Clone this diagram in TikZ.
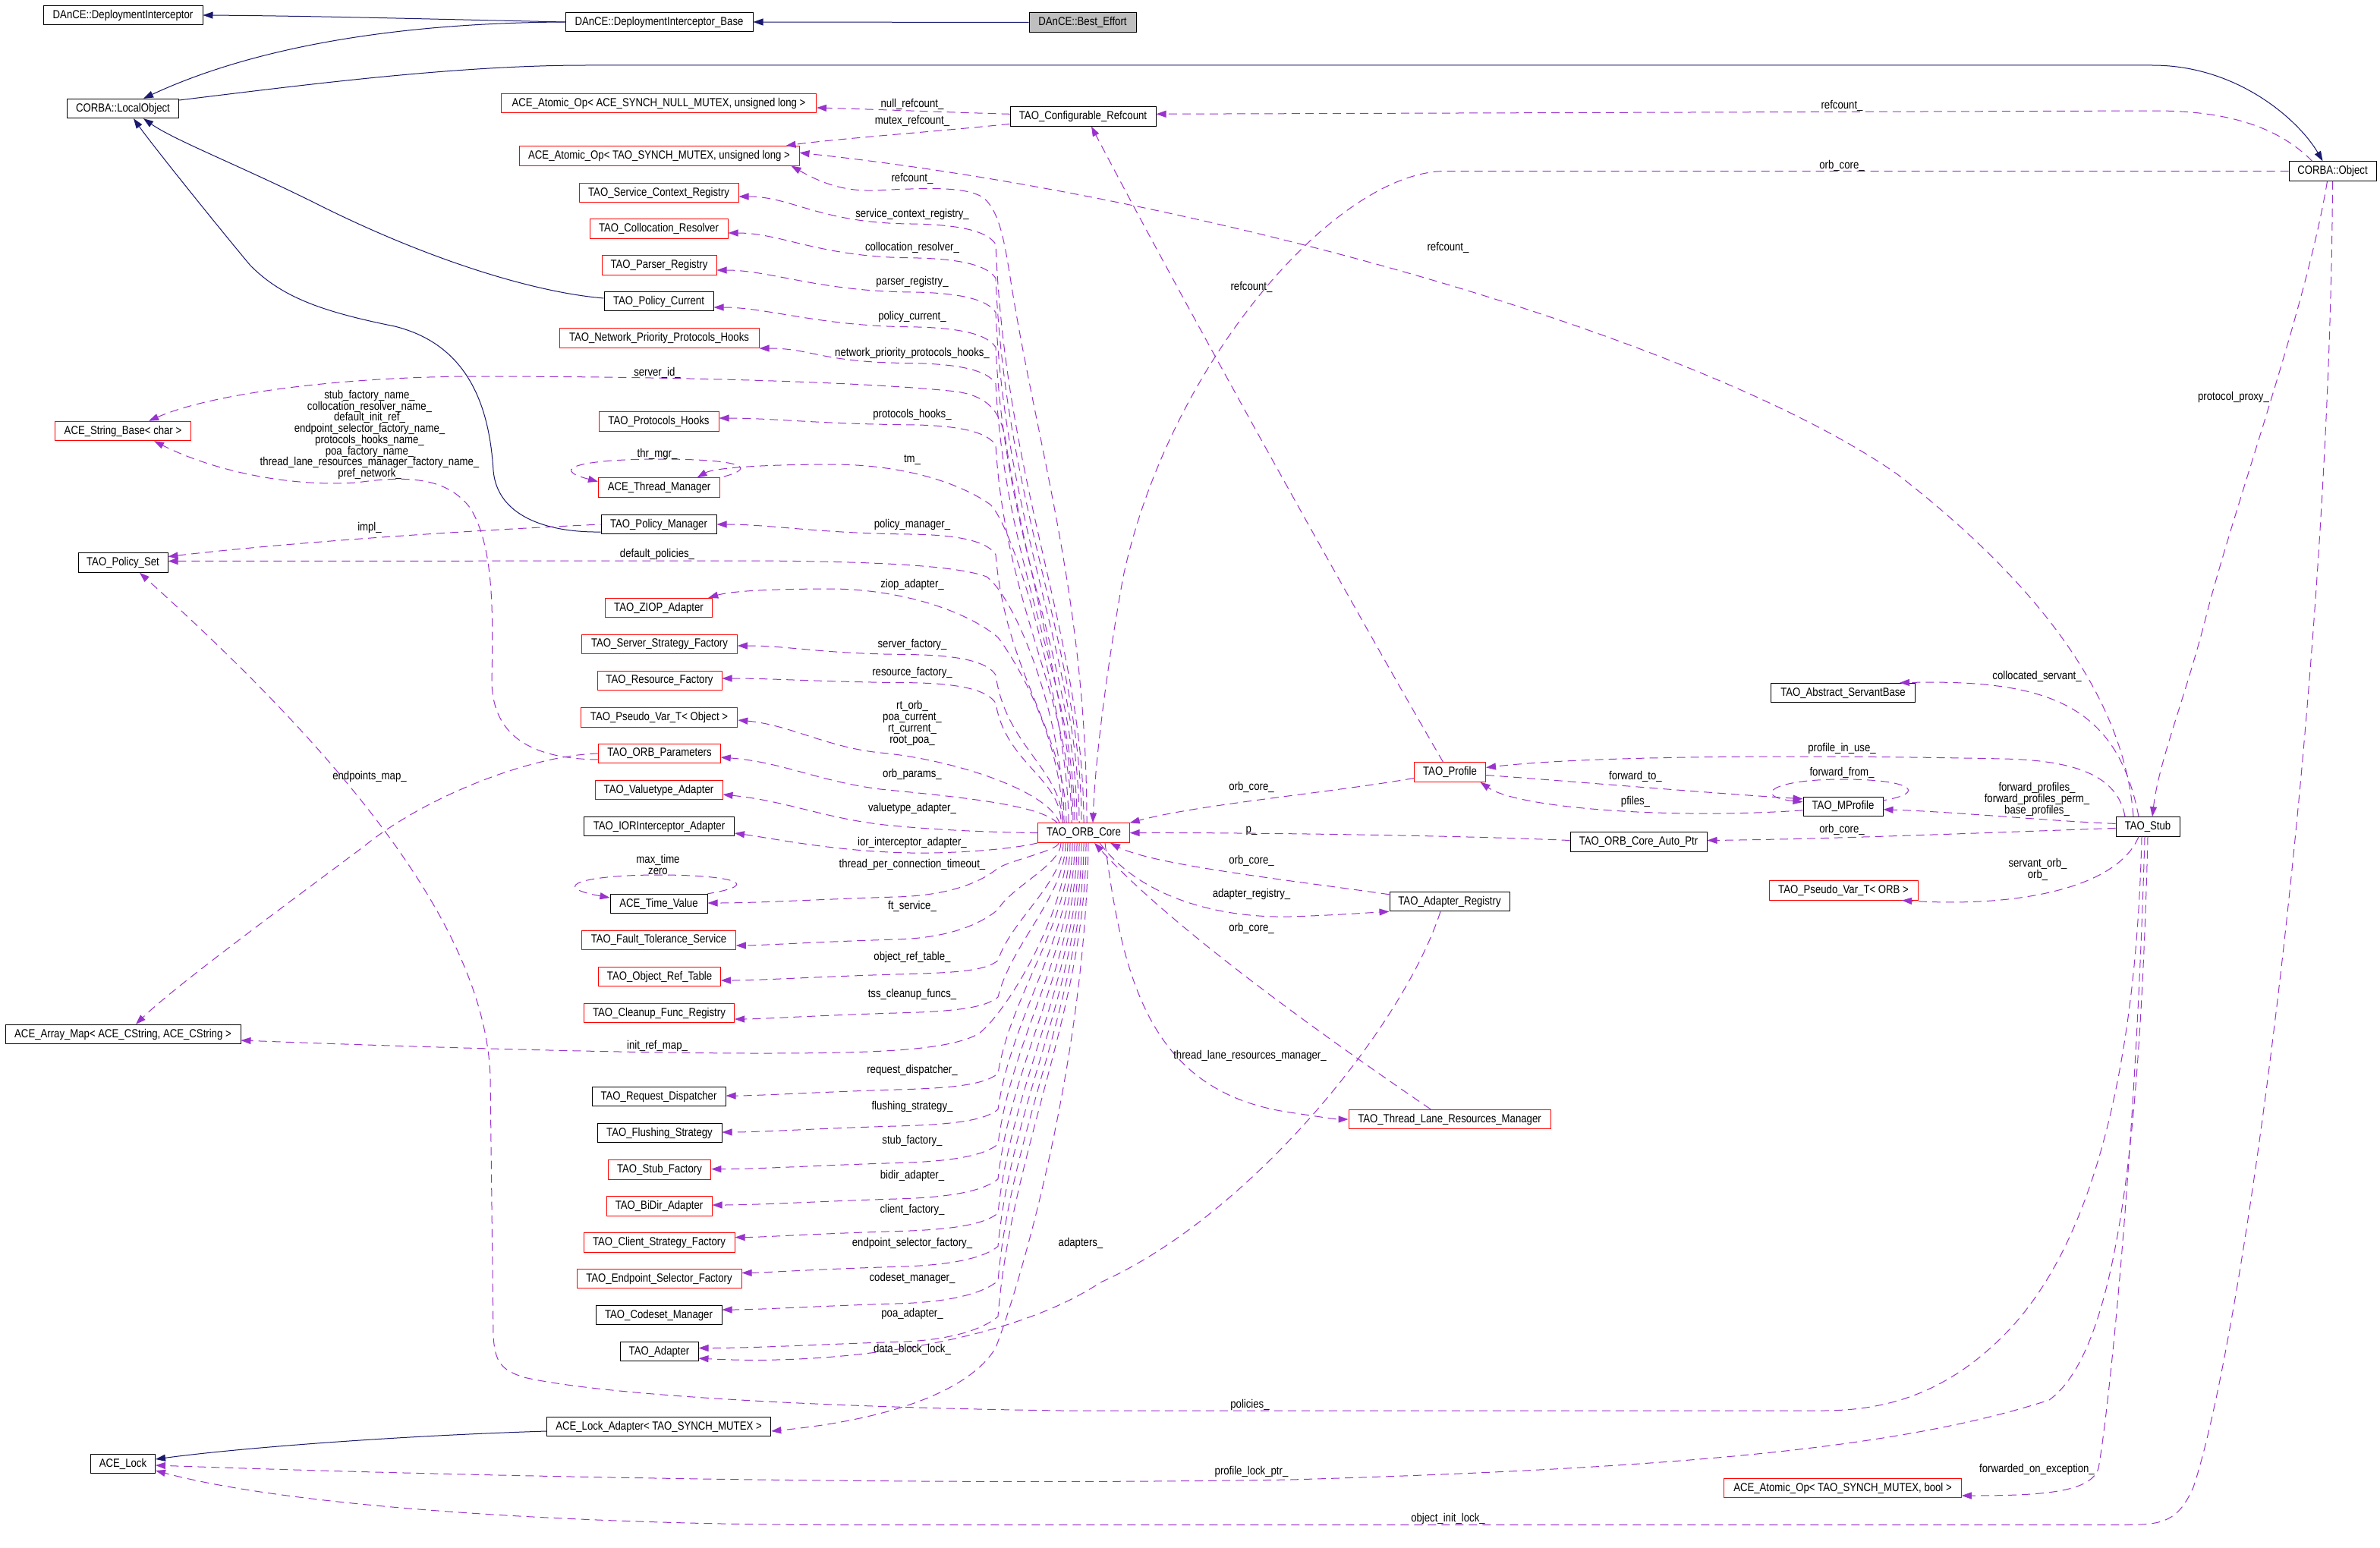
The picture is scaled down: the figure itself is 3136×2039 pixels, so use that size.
\documentclass[tikz,border=0pt]{standalone}
\usepackage{fontspec}
\newfontfamily\dgfamily{Liberation Sans}[FakeStretch=0.85]
\newcommand\dgfont{\dgfamily\fontsize{15.5}{14.7}\selectfont}
\usetikzlibrary{arrows.meta}
\definecolor{edgeblue}{HTML}{191970}
\definecolor{edgepurple}{HTML}{9A32CD}
\definecolor{fillgray}{HTML}{BFBFBF}
\tikzset{
  cls/.style={draw=black, line width=1pt, minimum height=25.5pt, inner xsep=5pt, inner ysep=0pt, font=\dgfont},
  redcls/.style={cls, draw=red},
  curcls/.style={cls, fill=fillgray},
  lbl/.style={font=\dgfont, inner sep=0pt, align=center},
  inh/.style={draw=edgeblue, line width=1pt, -{Triangle[length=13pt,width=9pt]}},
  usef/.style={draw=edgepurple, line width=1pt, dash pattern=on 11pt off 7pt, -{Triangle[length=13pt,width=9pt]}},
  useb/.style={draw=edgepurple, line width=1pt, dash pattern=on 11pt off 7pt, {Triangle[length=13pt,width=9pt]}-},
}
\begin{document}
\begin{tikzpicture}[x=1pt,y=-1pt]
\path[fill=white] (0,0) rectangle (3136,2039);
\useasboundingbox (0,0) rectangle (3136,2039);

% left column
\node[cls, minimum width=210pt] (di) at (162,20) {DAnCE::DeploymentInterceptor};
\node[cls, minimum width=147pt] (lobj) at (162,143) {CORBA::LocalObject};
\node[redcls, minimum width=179pt] (strb) at (162,568) {ACE\_String\_Base< char >};
\node[cls, minimum width=118pt] (pset) at (162,741.5) {TAO\_Policy\_Set};
\node[cls, minimum width=310pt] (amap) at (162,1363) {ACE\_Array\_Map< ACE\_CString, ACE\_CString >};
\node[cls, minimum width=85pt] (lock) at (162,1929) {ACE\_Lock};

% middle column
\node[cls, minimum width=247pt] (dib) at (868.5,29) {DAnCE::DeploymentInterceptor\_Base};
\node[redcls, minimum width=415pt] (aonull) at (868,136) {ACE\_Atomic\_Op< ACE\_SYNCH\_NULL\_MUTEX, unsigned long >};
\node[redcls, minimum width=369pt] (aotao) at (868.5,205.3) {ACE\_Atomic\_Op< TAO\_SYNCH\_MUTEX, unsigned long >};
\node[redcls, minimum width=210pt] (scr) at (868,254) {TAO\_Service\_Context\_Registry};
\node[redcls, minimum width=182pt] (colr) at (868,301.3) {TAO\_Collocation\_Resolver};
\node[redcls, minimum width=151pt] (pars) at (868.5,349.3) {TAO\_Parser\_Registry};
\node[cls, minimum width=144pt] (pcur) at (868,397) {TAO\_Policy\_Current};
\node[redcls, minimum width=263pt] (nph) at (868.5,445.3) {TAO\_Network\_Priority\_Protocols\_Hooks};
\node[redcls, minimum width=158pt] (phk) at (868,555.7) {TAO\_Protocols\_Hooks};
\node[redcls, minimum width=160pt] (thm) at (868.5,642.6) {ACE\_Thread\_Manager};
\node[cls, minimum width=152pt] (pman) at (868,691) {TAO\_Policy\_Manager};
\node[redcls, minimum width=141.5pt] (ziop) at (868,801) {TAO\_ZIOP\_Adapter};
\node[redcls, minimum width=204.5pt] (ssf) at (869,849) {TAO\_Server\_Strategy\_Factory};
\node[redcls, minimum width=164pt] (rf) at (869,897) {TAO\_Resource\_Factory};
\node[redcls, minimum width=206.6pt] (pvo) at (868.5,945.6) {TAO\_Pseudo\_Var\_T< Object >};
\node[redcls, minimum width=160.5pt] (orbp) at (869,993) {TAO\_ORB\_Parameters};
\node[redcls, minimum width=168pt] (vta) at (868,1041) {TAO\_Valuetype\_Adapter};
\node[cls, minimum width=198pt] (iora) at (868.5,1089) {TAO\_IORInterceptor\_Adapter};
\node[cls, minimum width=128pt] (tv) at (868,1191) {ACE\_Time\_Value};
\node[redcls, minimum width=202.5pt] (fts) at (868,1238.8) {TAO\_Fault\_Tolerance\_Service};
\node[redcls, minimum width=160.5pt] (ort) at (869,1287) {TAO\_Object\_Ref\_Table};
\node[redcls, minimum width=198pt] (cfr) at (868.5,1335) {TAO\_Cleanup\_Func\_Registry};
\node[cls, minimum width=176pt] (rd) at (868,1445) {TAO\_Request\_Dispatcher};
\node[cls, minimum width=164pt] (fs) at (869,1493) {TAO\_Flushing\_Strategy};
\node[redcls, minimum width=135.5pt] (sf) at (869,1541.4) {TAO\_Stub\_Factory};
\node[redcls, minimum width=139pt] (bda) at (868.5,1589.5) {TAO\_BiDir\_Adapter};
\node[redcls, minimum width=199pt] (csf) at (868.5,1637.6) {TAO\_Client\_Strategy\_Factory};
\node[redcls, minimum width=217pt] (esf) at (868.5,1685) {TAO\_Endpoint\_Selector\_Factory};
\node[cls, minimum width=166pt] (csm) at (868,1733) {TAO\_Codeset\_Manager};
\node[cls, minimum width=103pt] (adp) at (868.5,1781) {TAO\_Adapter};
\node[cls, minimum width=295.5pt] (lad) at (868,1880) {ACE\_Lock\_Adapter< TAO\_SYNCH\_MUTEX >};

% centre and right
\node[curcls, minimum width=141pt] (be) at (1426.5,29.5) {DAnCE::Best\_Effort};
\node[cls, minimum width=192pt] (cref) at (1427,153.3) {TAO\_Configurable\_Refcount};
\node[redcls, minimum width=120.4pt] (core) at (1428,1097.6) {TAO\_ORB\_Core};
\node[redcls, minimum width=94pt] (prof) at (1910.5,1017.5) {TAO\_Profile};
\node[cls, minimum width=158pt] (areg) at (1910,1188) {TAO\_Adapter\_Registry};
\node[redcls, minimum width=266pt] (tlrm) at (1910,1475) {TAO\_Thread\_Lane\_Resources\_Manager};
\node[cls, minimum width=190pt] (asb) at (2428.5,913) {TAO\_Abstract\_ServantBase};
\node[cls, minimum width=105pt] (mprof) at (2428.5,1062.8) {TAO\_MProfile};
\node[cls, minimum width=180pt] (aop) at (2159,1109.5) {TAO\_ORB\_Core\_Auto\_Ptr};
\node[redcls, minimum width=196pt] (pvorb) at (2429,1173.3) {TAO\_Pseudo\_Var\_T< ORB >};
\node[cls, minimum width=84pt] (stub) at (2830,1089.4) {TAO\_Stub};
\node[redcls, minimum width=312.6pt] (aobool) at (2428,1961) {ACE\_Atomic\_Op< TAO\_SYNCH\_MUTEX, bool >};
\node[cls, minimum width=115pt] (cobj) at (3073.5,225.5) {CORBA::Object};

% inheritance
\draw[inh] (be.west) -- (dib.east);
\draw[inh] (dib.west) .. controls (600,26) and (420,21) .. (di.east);
\draw[inh] (dib.west) .. controls (550,30) and (350,55) .. ([xshift=27pt]lobj.north);
\draw[inh] ([yshift=11pt]lobj.east) .. controls (400,112) and (600,86) .. (772,86) -- (2836,86) .. controls (2950,86) and (3030,160) .. ([xshift=-13pt]cobj.north);
\draw[inh] ([yshift=4pt]pcur.west) .. controls (700,385) and (560,340) .. (420,270) .. controls (320,220) and (230,185) .. ([xshift=27pt]lobj.south);
\draw[inh] ([yshift=-10pt]pman.west) .. controls (720,702) and (655,680) .. (650,620) .. controls (645,540) and (620,455) .. (520,430) .. controls (420,410) and (370,390) .. (330,350) .. controls (280,290) and (200,190) .. ([xshift=14pt]lobj.south);
\draw[inh] ([yshift=-6pt]lad.west) .. controls (500,1893) and (300,1910) .. ([yshift=6pt]lock.east);

% refcounts
\draw[usef] ([yshift=3pt]cref.west) .. controls (1250,148) and (1150,144) .. ([yshift=-6pt]aonull.east); % null_refcount_
\draw[usef] ([yshift=-10pt]cref.west) .. controls (1250,172) and (1100,183) .. ([xshift=-18pt]aotao.north east); % mutex_refcount_
\draw[usef] ([xshift=-27pt]cobj.north) .. controls (3000,165) and (2930,146) .. (2840,146) -- ([yshift=3pt]cref.east); % refcount_
\draw[usef] ([xshift=-9pt]prof.north) .. controls (1800,830) and (1560,400) .. ([xshift=11pt]cref.south); % refcount_
\draw[usef] ([xshift=-19pt]stub.north) .. controls (2800,930) and (2700,780) .. (2500,625) .. controls (2250,450) and (1600,260) .. ([yshift=4pt]aotao.east); % refcount_
\draw[useb] ([xshift=-11pt]aotao.south east) .. controls (1080,240) and (1110,252) .. (1150,251) .. controls (1220,248) and (1270,245) .. (1295,260) .. controls (1320,280) and (1325,330) .. (1335,390) .. controls (1370,600) and (1432,800) .. (core.north -| 1432,0); % refcount_

% orb core, upper members
\foreach \t/\yt/\lb/\cx in {scr/259/282/1428, colr/307/326.8/1425, pars/356/371.9/1422, pcur/405/417.8/1419, nph/459/465.6/1416, phk/551/546.8/1412, pman/691/691/1405, ssf/851/849.6/1400, rf/894/886.7/1398}
  \draw[useb] (\t.east |- 0,\yt) .. controls +(70,0) and (1080,\lb+12) .. (1200,\lb+13) .. controls (1270,\lb+14) and (1302,\lb+24) .. (1312,\lb+40) .. controls (1325,{\lb+40+0.4*(1085-\lb)}) and (\cx,{1085-0.3*(1085-\lb)}) .. (core.north -| \cx,0);
\draw[useb] ([xshift=34pt]strb.north) .. controls (280,518) and (450,497) .. (620,496) .. controls (900,496) and (1150,504) .. (1260,516) .. controls (1300,522) and (1318,540) .. (1325,580) .. controls (1345,720) and (1414,950) .. (core.north -| 1414,0); % server_id_
\draw[useb] ([xshift=50pt]thm.north) .. controls (940,617) and (1000,612) .. (1100,612) .. controls (1200,613) and (1270,640) .. (1305,665) .. controls (1340,700) and (1408,950) .. (core.north -| 1408,0); % tm_
\draw[useb] ([yshift=8pt]thm.west) .. controls (720,617) and (770,605) .. (870,605) .. controls (960,605) and (1010,614) .. (thm.north east); % thr_mgr_
\draw[useb] ([yshift=2pt]pset.east) -- (1000,739) .. controls (1150,740) and (1260,745) .. (1300,760) .. controls (1340,790) and (1402,950) .. (core.north -| 1402,0); % default_policies_
\draw[useb] ([xshift=-6pt]ziop.north east) .. controls (960,780) and (1000,776) .. (1100,776) .. controls (1200,778) and (1280,810) .. (1315,840) .. controls (1345,880) and (1400,980) .. (core.north -| 1400,0); % ziop_adapter_
\draw[useb] ([yshift=8pt]pset.east) .. controls (380,715) and (600,700) .. (pman.west); % impl_
\draw[useb] (pvo.east |- 0,949) .. controls (1040,955) and (1090,985) .. (1160,992) .. controls (1250,1000) and (1380,1040) .. (core.north -| 1396,0);
\draw[useb] (orbp.east |- 0,998) .. controls (1030,1004) and (1080,1030) .. (1160,1040) .. controls (1260,1050) and (1370,1060) .. (core.north -| 1393,0);
\draw[useb] (vta.east |- 0,1047) .. controls (1040,1056) and (1090,1080) .. (1175,1088) .. controls (1250,1095) and (1320,1097) .. (core.west);
\draw[usef] (core.south west) .. controls (1330,1120) and (1250,1125) .. (1200,1124) .. controls (1100,1122) and (1020,1105) .. (iora.east |- 0,1098);

% orb core, lower members
\foreach \t/\yt/\lb/\cx in {tv/1190/1140/1395, fts/1246/1194.7/1398, ort/1292/1261.7/1401, cfr/1343/1310/1404, rd/1444/1410.7/1410, fs/1492/1458/1413, sf/1540.6/1503.8/1416, bda/1588/1549.7/1419, csf/1630.6/1594.7/1422, esf/1677.4/1638.4/1425, csm/1726/1684/1428, adp/1776.5/1731/1431}
  \draw[usef] (core.south -| \cx,0) .. controls (\cx,{1110+0.35*(\lb-1110)}) and (1332,{\lb+4-0.35*(\lb-1110)}) .. (1315,\lb+4) .. controls (1298,\lb+18) and (1260,\yt-10) .. (1180,\yt-8) .. controls (1080,\yt-5) and (1000,\yt) .. (\t.east |- 0,\yt);
\draw[useb] ([yshift=8pt]tv.west) .. controls (720,1168) and (770,1153) .. (868,1153) .. controls (960,1153) and (1010,1165) .. (tv.north east); % max_time, zero
\draw[usef] (core.south -| 1407,0) .. controls (1405,1200) and (1330,1330) .. (1290,1362) .. controls (1250,1385) and (1150,1388) .. (1000,1388) .. controls (800,1388) and (500,1378) .. (amap.east |- 0,1371); % init_ref_map_
\draw[usef] (core.south -| 1434,0) .. controls (1430,1400) and (1345,1690) .. (1312,1776) .. controls (1280,1830) and (1180,1870) .. (lad.east |- 0,1886); % data_block_lock_

% orb parameters
\draw[usef] ([yshift=-8pt]orbp.west) .. controls (700,1000) and (650,970) .. (648,900) .. controls (650,800) and (650,720) .. (620,670) .. controls (590,630) and (540,626) .. (470,636) .. controls (380,642) and (280,620) .. ([xshift=41pt]strb.south);
\draw[usef] (orbp.west) .. controls (700,995) and (560,1050) .. (480,1115) .. controls (380,1190) and (230,1300) .. ([xshift=17pt]amap.north); % endpoints_map_

% right of the core
\draw[usef] (cobj.west) -- (1905,225.5) .. controls (1760,225.5) and (1540,480) .. (1480,760) .. controls (1460,870) and (1443,1000) .. (core.north -| 1440,0); % orb_core_
\draw[usef] ([yshift=-8pt]prof.west) .. controls (1750,1045) and (1580,1060) .. (core.north east); % orb_core_
\draw[usef] ([yshift=2pt]aop.west) .. controls (1900,1100) and (1600,1097) .. (core.east); % p_
\draw[usef] ([yshift=-4pt]areg.north west) .. controls (1700,1160) and (1520,1140) .. (core.south -| 1463,0); % orb_core_
\draw[usef] (core.south -| 1449,0) .. controls (1500,1180) and (1600,1210) .. (1700,1208) .. controls (1760,1206) and (1800,1203) .. (areg.south west); % adapter_registry_
\draw[usef] ([xshift=-25pt]tlrm.north) .. controls (1780,1390) and (1550,1230) .. (core.south -| 1442,0); % orb_core_
\draw[usef] (core.south -| 1456,0) .. controls (1480,1300) and (1520,1440) .. (1700,1466) .. controls (1740,1472) and (1760,1475) .. (tlrm.west); % thread_lane_resources_manager_
\draw[usef] ([xshift=-12pt]areg.south) .. controls (1850,1350) and (1650,1600) .. (1450,1690) .. controls (1330,1770) and (1100,1800) .. (adp.east |- 0,1790); % adapters_

% stub and object
\draw[usef] ([xshift=-7pt]cobj.south) .. controls (3040,400) and (2950,650) .. (2910,800) .. controls (2880,920) and (2845,1000) .. ([xshift=6pt]stub.north); % protocol_proxy_
\draw[usef] (cobj.south) .. controls (3070,900) and (2960,1750) .. (2890,1960) .. controls (2870,2005) and (2850,2009.5) .. (2800,2009.5) -- (1100,2009.5) .. controls (800,2009.5) and (400,1990) .. ([yshift=-9pt]lock.east); % object_init_lock_
\draw[usef] (stub.south) .. controls (2820,1500) and (2790,1780) .. (2700,1845) .. controls (2500,1910) and (2200,1935) .. (1700,1950) .. controls (1200,1958) and (600,1945) .. ([yshift=-2pt]lock.east); % profile_lock_ptr_
\draw[usef] ([xshift=-8pt]stub.south) .. controls (2815,1400) and (2760,1640) .. (2640,1760) .. controls (2560,1840) and (2480,1859) .. (2400,1859) -- (1400,1859) .. controls (1100,1855) and (800,1840) .. (690,1815) .. controls (660,1805) and (652,1795) .. (650,1760) -- (646,1420) .. controls (640,1200) and (400,950) .. ([xshift=22pt]pset.south); % policies_
\draw[usef] ([xshift=-4pt]stub.south) .. controls (2815,1500) and (2780,1850) .. (2765,1935) .. controls (2755,1965) and (2700,1971) .. ([yshift=-10pt]aobool.east); % forwarded_on_exception_
\draw[usef] ([xshift=-12pt]stub.north) .. controls (2790,930) and (2700,895) .. ([xshift=-21pt]asb.north east); % collocated_servant_
\draw[usef] ([xshift=-30pt]stub.north) .. controls (2790,1020) and (2730,1002) .. (2640,1000) .. controls (2400,995) and (2100,995) .. ([yshift=6pt]prof.east); % profile_in_use_
\draw[usef] ([yshift=-4pt]prof.east) .. controls (2050,1028) and (2250,1045) .. ([yshift=10pt]mprof.west); % forward_to_
\draw[usef] ([yshift=-5pt]mprof.west) .. controls (2200,1080) and (2000,1065) .. ([xshift=40pt]prof.south); % pfiles_
\draw[useb] ([yshift=6pt]mprof.west) .. controls (2310,1050) and (2330,1027) .. (2428,1027) .. controls (2520,1027) and (2540,1045) .. ([yshift=8pt]mprof.east); % forward_from_
\draw[usef] ([yshift=4pt]stub.west) .. controls (2700,1082) and (2580,1070) .. ([yshift=-4pt]mprof.east); % forward_profiles_
\draw[usef] ([yshift=-2pt]stub.west) .. controls (2600,1098) and (2400,1106) .. ([yshift=2pt]aop.east); % orb_core_
\draw[usef] ([xshift=-12pt]stub.south) .. controls (2790,1170) and (2660,1196) .. ([xshift=77pt]pvorb.south); % servant_orb_

% labels
\foreach \y/\s [count=\i] in {137.5/null\_refcount\_, 159.4/mutex\_refcount\_, 235.7/refcount\_, 282/service\_context\_registry\_, 326.8/collocation\_resolver\_, 371.9/parser\_registry\_, 417.8/policy\_current\_, 465.6/network\_priority\_protocols\_hooks\_, 546.8/protocols\_hooks\_, 606.2/tm\_, 691/policy\_manager\_, 770.6/ziop\_adapter\_, 849.6/server\_factory\_, 886.7/resource\_factory\_, 1020/orb\_params\_, 1065.7/valuetype\_adapter\_, 1110.8/ior\_interceptor\_adapter\_, 1139.8/thread\_per\_connection\_timeout\_, 1194.7/ft\_service\_, 1261.7/object\_ref\_table\_, 1310/tss\_cleanup\_funcs\_, 1410.7/request\_dispatcher\_, 1458/flushing\_strategy\_, 1503.8/stub\_factory\_, 1549.7/bidir\_adapter\_, 1594.7/client\_factory\_, 1638.4/endpoint\_selector\_factory\_, 1684/codeset\_manager\_, 1731/poa\_adapter\_, 1778/data\_block\_lock\_}
  \node[lbl] (m\i) at (1202,\y) {\s};
\foreach \x/\y/\s [count=\i] in {866/491/server\_id\_, 866/598/thr\_mgr\_, 866/730.5/default\_policies\_, 866/1378.6/init\_ref\_map\_, 487/695.6/impl\_, 487/1023.7/endpoints\_map\_, 1649/378.5/refcount\_, 1649/1037.6/orb\_core\_, 1649/1095/p\_, 1649/1134/orb\_core\_, 1649/1178.6/adapter\_registry\_, 1649/1223.7/orb\_core\_, 1647/1391/thread\_lane\_resources\_manager\_, 1647/1851.5/policies\_, 1649/1939/profile\_lock\_ptr\_, 1908/326/refcount\_, 1908/2001.7/object\_init\_lock\_, 1424/1638/adapters\_, 2427/139/refcount\_, 2427/218/orb\_core\_, 2427/986.7/profile\_in\_use\_, 2427/1018.4/forward\_from\_, 2427/1093.8/orb\_core\_, 2155/1023.7/forward\_to\_, 2155/1056/pfiles\_, 2684/891.6/collocated\_servant\_, 2684/1936/forwarded\_on\_exception\_, 2943/523/protocol\_proxy\_}
  \node[lbl] (n\i) at (\x,\y) {\s};
\node[lbl] (strnames) at (487,573) {stub\_factory\_name\_\\collocation\_resolver\_name\_\\default\_init\_ref\_\\endpoint\_selector\_factory\_name\_\\protocols\_hooks\_name\_\\poa\_factory\_name\_\\thread\_lane\_resources\_manager\_factory\_name\_\\pref\_network\_};
\node[lbl] (pseudonames) at (1202,953) {rt\_orb\_\\poa\_current\_\\rt\_current\_\\root\_poa\_};
\node[lbl] (timenames) at (867,1139.5) {max\_time\\zero};
\node[lbl] (profnames) at (2684,1053.5) {forward\_profiles\_\\forward\_profiles\_perm\_\\base\_profiles\_};
\node[lbl] (orbnames) at (2685,1146) {servant\_orb\_\\orb\_};
\end{tikzpicture}
\end{document}
